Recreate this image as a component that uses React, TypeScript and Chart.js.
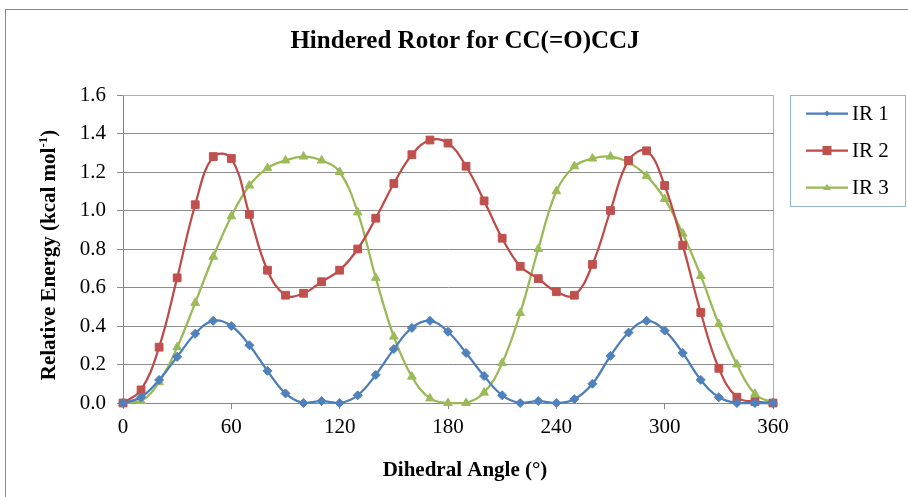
import React, { useEffect, useRef } from "react";
import { Chart, registerables } from "chart.js";

Chart.register(...registerables);

const chartTitle = "Hindered Rotor for CC(=O)CCJ";
const xTitle = "Dihedral Angle (°)";
const yTitleMain = "Relative Energy (kcal mol";
const yTitleSup = "-1";
const yTitleEnd = ")";

const angles = [0, 10, 20, 30, 40, 50, 60, 70, 80, 90, 100, 110, 120, 130, 140, 150, 160, 170, 180, 190, 200, 210, 220, 230, 240, 250, 260, 270, 280, 290, 300, 310, 320, 330, 340, 350, 360];

const ir1 = [0, 0.03, 0.12, 0.24, 0.36, 0.427, 0.40, 0.30, 0.167, 0.05, 0.0, 0.01, 0.0, 0.04, 0.146, 0.28, 0.39, 0.427, 0.37, 0.26, 0.14, 0.04, 0.0, 0.01, 0.0, 0.02, 0.10, 0.245, 0.366, 0.427, 0.376, 0.26, 0.12, 0.03, 0.0, 0.0, 0.0];
const ir2 = [0, 0.068, 0.29, 0.65, 1.03, 1.28, 1.27, 0.98, 0.69, 0.56, 0.57, 0.63, 0.69, 0.80, 0.96, 1.14, 1.29, 1.366, 1.35, 1.23, 1.05, 0.856, 0.71, 0.646, 0.578, 0.56, 0.72, 1.00, 1.26, 1.31, 1.13, 0.82, 0.47, 0.18, 0.03, 0.007, 0];
const ir3 = [0, 0.01, 0.108, 0.29, 0.52, 0.76, 0.97, 1.13, 1.22, 1.26, 1.28, 1.26, 1.20, 0.99, 0.65, 0.345, 0.137, 0.024, 0, 0, 0.054, 0.207, 0.467, 0.80, 1.10, 1.23, 1.27, 1.28, 1.25, 1.18, 1.06, 0.88, 0.66, 0.41, 0.20, 0.047, 0];

const seriesNames = ["IR 1", "IR 2", "IR 3"];
const xMin = 0;
const xMax = 360;
const xStep = 60;
const yMin = 0;
const yMax = 1.6;
const yStep = 0.2;

const SERIF = "'Liberation Serif', 'Times New Roman', serif";
const lineColors = ["#4A7EBB", "#BE4B48", "#98B954"];
const markColors = ["#4F81BD", "#C0504D", "#9BBB59"];
const markStyles = ["rectRot", "rect", "triangle"];
const markRadius = [4.5, 5.5, 5];

const decorPlugin = {
  id: "decor",
  beforeDraw(chart: any) {
    const ctx = chart.ctx;
    ctx.save();
    ctx.fillStyle = "#ffffff";
    ctx.fillRect(0, 0, chart.width, chart.height);
    ctx.strokeStyle = "#888888";
    ctx.lineWidth = 1;
    ctx.strokeRect(5.5, 9.5, chart.width + 20, chart.height + 20);
    ctx.restore();
  },
  beforeDatasetsDraw(chart: any) {
    const { ctx, chartArea } = chart;
    ctx.save();
    ctx.strokeStyle = "#95B3D7";
    ctx.lineWidth = 1;
    ctx.beginPath();
    ctx.moveTo(chartArea.left, chartArea.top + 0.5);
    ctx.lineTo(chartArea.right + 0.5, chartArea.top + 0.5);
    ctx.lineTo(chartArea.right + 0.5, chartArea.bottom);
    ctx.stroke();
    ctx.restore();
  },
  afterDraw(chart: any) {
    const ctx = chart.ctx;
    ctx.save();
    ctx.fillStyle = "#000000";
    ctx.textAlign = "center";
    ctx.textBaseline = "middle";
    ctx.font = `bold 25px ${SERIF}`;
    ctx.fillText(chartTitle, 465, 42);
    ctx.font = `bold 21px ${SERIF}`;
    ctx.fillText(xTitle, 465, 471);

    // y title with superscript
    ctx.save();
    ctx.translate(48, 255);
    ctx.rotate(-Math.PI / 2);
    ctx.textAlign = "left";
    ctx.textBaseline = "alphabetic";
    const fMain = `bold 21px ${SERIF}`;
    const fSup = `bold 13px ${SERIF}`;
    ctx.font = fMain;
    const w1 = ctx.measureText(yTitleMain).width;
    const w3 = ctx.measureText(yTitleEnd).width;
    ctx.font = fSup;
    const w2 = ctx.measureText(yTitleSup).width;
    const total = w1 + w2 + w3;
    let x = -total / 2;
    const base = 7;
    ctx.font = fMain;
    ctx.fillText(yTitleMain, x, base);
    x += w1;
    ctx.font = fSup;
    ctx.fillText(yTitleSup, x, base - 8);
    x += w2;
    ctx.font = fMain;
    ctx.fillText(yTitleEnd, x, base);
    ctx.restore();

    // legend
    ctx.strokeStyle = "#95B3D7";
    ctx.lineWidth = 1;
    ctx.strokeRect(790.5, 95.5, 115, 111);
    const rows = [113.5, 150.5, 187.5];
    const small = [3, 4.5, 4];
    seriesNames.forEach((name, i) => {
      const y = rows[i];
      ctx.strokeStyle = lineColors[i];
      ctx.lineWidth = 2.25;
      ctx.beginPath();
      ctx.moveTo(806, y);
      ctx.lineTo(848, y);
      ctx.stroke();
      ctx.fillStyle = markColors[i];
      ctx.strokeStyle = markColors[i];
      ctx.lineWidth = 1;
      (Chart as any).helpers
        ? null
        : null;
      drawMarker(ctx, markStyles[i], 827, y, small[i]);
      ctx.fillStyle = "#000000";
      ctx.font = `21px ${SERIF}`;
      ctx.textAlign = "left";
      ctx.textBaseline = "middle";
      ctx.fillText(name, 852, y + 1);
    });
    ctx.restore();
  },
};

function drawMarker(ctx: CanvasRenderingContext2D, style: string, x: number, y: number, r: number) {
  ctx.beginPath();
  if (style === "rectRot") {
    ctx.moveTo(x, y - r);
    ctx.lineTo(x + r, y);
    ctx.lineTo(x, y + r);
    ctx.lineTo(x - r, y);
    ctx.closePath();
  } else if (style === "rect") {
    ctx.rect(x - r, y - r, 2 * r, 2 * r);
  } else {
    const h = r * 1.6;
    ctx.moveTo(x, y - h * 0.6);
    ctx.lineTo(x + r, y + h * 0.4);
    ctx.lineTo(x - r, y + h * 0.4);
    ctx.closePath();
  }
  ctx.fill();
}

export default function App() {
  const ref = useRef<HTMLCanvasElement | null>(null);

  useEffect(() => {
    if (!ref.current) return;
    const series = [ir1, ir2, ir3];
    const chart = new Chart(ref.current, {
      type: "line",
      data: {
        datasets: series.map((vals, i) => ({
          label: seriesNames[i],
          data: vals.map((v, j) => ({ x: angles[j], y: v })),
          borderColor: lineColors[i],
          backgroundColor: markColors[i],
          borderWidth: 2.25,
          pointStyle: markStyles[i] as any,
          pointRadius: markRadius[i],
          pointBackgroundColor: markColors[i],
          pointBorderColor: markColors[i],
          pointBorderWidth: 1,
          tension: 0.4,
          fill: false,
          clip: false as any,
        })),
      },
      options: {
        animation: false,
        responsive: false,
        devicePixelRatio: 1,
        layout: { padding: { left: 0, right: 135, top: 95, bottom: 0 } },
        plugins: {
          legend: { display: false },
          title: { display: false },
          tooltip: { enabled: false },
        },
        scales: {
          x: {
            type: "linear",
            min: xMin,
            max: xMax,
            afterFit: (s: any) => {
              s.height = 94;
            },
            ticks: {
              stepSize: xStep,
              color: "#000000",
              font: { family: SERIF, size: 21 },
              padding: 6,
              maxRotation: 0,
            },
            grid: {
              display: true,
              drawOnChartArea: false,
              drawTicks: true,
              tickLength: 6,
              color: "#868686",
            },
            border: { display: true, color: "#868686", width: 1 },
          },
          y: {
            type: "linear",
            min: yMin,
            max: yMax,
            afterFit: (s: any) => {
              s.width = 123;
            },
            ticks: {
              stepSize: yStep,
              color: "#000000",
              font: { family: SERIF, size: 21 },
              padding: 11,
              callback: (v: any) => Number(v).toFixed(1),
            },
            grid: {
              display: true,
              drawTicks: true,
              tickLength: 6,
              color: "#8C8C8C",
            },
            border: { display: true, color: "#868686", width: 1 },
          },
        },
      },
      plugins: [decorPlugin],
    });
    return () => chart.destroy();
  }, []);

  return (
    <div style={{ position: "fixed", left: 0, top: 0, width: 908, height: 497, overflow: "hidden", background: "#fff" }}>
      <canvas ref={ref} width={908} height={497} style={{ width: 908, height: 497, display: "block" }} />
    </div>
  );
}
